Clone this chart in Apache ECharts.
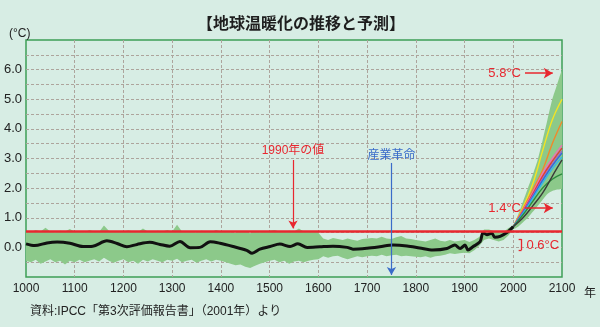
<!DOCTYPE html>
<html>
<head>
<meta charset="utf-8">
<script src="https://cdn.jsdelivr.net/npm/echarts@6/dist/echarts.min.js"></script>
<style>
html,body{margin:0;padding:0;background:#d7ede4;}
#chart{width:600px;height:327px;}
</style>
</head>
<body>
<div id="chart"></div>
<script>
// ---- data ----
var xTicks = [1000,1100,1200,1300,1400,1500,1600,1700,1800,1900,2000,2100];
var yTickLabels = [0,1,2,3,4,5,6];

var histYears = [1000,1018,1043,1064,1090,1117,1137,1166,1187,1207,1228,1254,1275,1295,1316,1337,1357,1378,1398,1425,1453,1464,1480,1501,1521,1542,1558,1577,1603,1630,1659,1671,1700,1726,1753,1782,1808,1835,1864,1880,1891,1901,1907,1917,1932,1938,1946,1956,1962,1973,1987,1997,2000];
var histTemps = [0.12,0.06,0.15,0.18,0.14,0.03,0.04,0.22,0.13,0.02,0.10,0.17,0.10,0.04,0.20,-0.01,0.00,0.19,0.14,0.03,-0.10,-0.20,-0.06,0.03,0.11,0.03,0.12,0.00,0.02,0.04,0.00,-0.06,-0.03,0.02,0.08,0.05,-0.02,-0.09,-0.04,0.08,-0.04,0.08,-0.09,0.02,0.19,0.50,0.43,0.48,0.34,0.37,0.50,0.65,0.70];

var bandYears = [1000,1010,1020,1030,1040,1050,1060,1070,1080,1090,1100,1110,1120,1130,1140,1150,1160,1170,1180,1190,1200,1210,1220,1230,1240,1250,1260,1270,1280,1290,1300,1310,1320,1330,1340,1350,1360,1370,1380,1390,1400,1410,1420,1430,1440,1450,1460,1470,1480,1490,1500,1510,1520,1530,1540,1550,1560,1570,1580,1590,1600,1610,1620,1630,1640,1650,1660,1670,1680,1690,1700,1710,1720,1730,1740,1750,1760,1770,1780,1790,1800,1810,1820,1830,1840,1850,1860,1870,1880,1890,1900,1910,1920,1930,1940,1950,1960,1970,1980,1990,2000];
var bandUpper = [0.54,0.52,0.59,0.54,0.66,0.54,0.51,0.56,0.54,0.62,0.53,0.54,0.51,0.59,0.54,0.52,0.74,0.56,0.54,0.51,0.54,0.58,0.54,0.52,0.64,0.54,0.51,0.56,0.54,0.59,0.54,0.76,0.54,0.52,0.54,0.50,0.56,0.54,0.52,0.59,0.54,0.54,0.51,0.49,0.54,0.52,0.48,0.54,0.51,0.54,0.56,0.59,0.54,0.52,0.56,0.54,0.64,0.54,0.52,0.54,0.49,0.30,0.25,0.32,0.28,0.25,0.30,0.26,0.22,0.28,0.30,0.32,0.30,0.36,0.30,0.28,0.34,0.38,0.30,0.28,0.25,0.22,0.20,0.25,0.30,0.22,0.20,0.25,0.20,0.22,0.25,0.18,0.25,0.35,0.60,0.60,0.55,0.50,0.52,0.65,0.72];
var bandLower = [-0.45,-0.50,-0.42,-0.55,-0.48,-0.40,-0.50,-0.45,-0.58,-0.45,-0.50,-0.42,-0.50,-0.45,-0.40,-0.48,-0.35,-0.45,-0.52,-0.45,-0.40,-0.50,-0.45,-0.55,-0.42,-0.48,-0.40,-0.45,-0.50,-0.42,-0.45,-0.38,-0.50,-0.45,-0.42,-0.52,-0.45,-0.40,-0.48,-0.42,-0.45,-0.50,-0.55,-0.60,-0.58,-0.65,-0.70,-0.62,-0.55,-0.50,-0.45,-0.42,-0.50,-0.45,-0.55,-0.48,-0.45,-0.50,-0.45,-0.42,-0.40,-0.30,-0.35,-0.30,-0.28,-0.35,-0.40,-0.35,-0.30,-0.33,-0.30,-0.28,-0.30,-0.25,-0.30,-0.27,-0.25,-0.30,-0.28,-0.30,-0.32,-0.33,-0.30,-0.35,-0.30,-0.28,-0.25,-0.20,-0.22,-0.20,-0.18,-0.20,-0.10,0.05,0.25,0.30,0.25,0.20,0.25,0.40,0.60];

var fanYears = [2000,2010,2020,2030,2040,2050,2060,2070,2080,2090,2100];
var fanUpper = [0.72,1.10,1.55,2.00,2.45,2.95,3.60,4.30,5.00,5.50,5.95];
var fanLower = [0.62,0.70,0.85,1.00,1.20,1.40,1.60,1.80,1.90,1.95,2.00];

var projYears = [2000,2020,2040,2060,2080,2100];
var projYellow = [0.70,1.35,2.15,3.25,4.30,5.00];
var projOrange = [0.70,1.30,1.95,2.60,3.50,4.25];
var projPink   = [0.70,1.25,1.85,2.50,3.00,3.45];
var projRed    = [0.70,1.22,1.80,2.40,2.90,3.35];
var projPurple = [0.70,1.20,1.75,2.30,2.80,3.25];
var projBlue   = [0.70,1.18,1.70,2.25,2.75,3.18];
var projCyan   = [0.70,1.15,1.65,2.17,2.65,3.05];
var projGreen  = [0.70,1.10,1.55,2.00,2.30,2.48];
var projDark   = [0.70,1.00,1.40,1.83,2.40,2.95];

var value1990 = 0.56;

// ---- chart ----
var LATIN = "'Liberation Sans', 'Noto Sans CJK JP', sans-serif";
var CJK = "'Noto Sans CJK JP', 'Liberation Sans', sans-serif";
var RED = '#e8272f', BLUE = '#3a6cc9', BANDC = '#8cc98a';

function pairs(xs, ys){ var r=[]; for (var i=0;i<xs.length;i++) r.push([xs[i], ys[i]]); return r; }

function polySeries(xs, up, lo, smooth){
  return {
    type:'custom', silent:true, z:1, clip:true,
    data:[[xs[0], up[0]]],
    renderItem:function(params, api){
      var pts=[];
      for (var i=0;i<xs.length;i++) pts.push(api.coord([xs[i], up[i]]));
      for (var j=xs.length-1;j>=0;j--) pts.push(api.coord([xs[j], lo[j]]));
      return {type:'polygon', shape:{points:pts, smooth:smooth||0}, style:{fill:BANDC}};
    }
  };
}

function proj(vals, color){
  return {type:'line', data:pairs(projYears, vals), smooth:0.4, showSymbol:false, silent:true, z:3,
          lineStyle:{color:color, width:1.4}};
}

var chart = echarts.init(document.getElementById('chart'), null, {renderer:'canvas'});
chart.setOption({
  backgroundColor:'#d7ede4',
  animation:false,
  title:[
    {text:'【地球温暖化の推移と予測】', left:192, top:10, textStyle:{fontSize:16, fontWeight:'bold', fontFamily:CJK, color:'#1e1e1e'}},
    {text:'(°C)', left:4, top:23, textStyle:{fontSize:12, fontWeight:'normal', fontFamily:LATIN, color:'#222'}},
    {text:'年', left:579, top:281, textStyle:{fontSize:12, fontWeight:'normal', fontFamily:CJK, color:'#222'}},
    {text:'資料:IPCC「第3次評価報告書」（2001年）より', left:25, top:301, textStyle:{fontSize:12, fontWeight:'normal', fontFamily:LATIN, color:'#222'}}
  ],
  grid:{left:26, right:38, top:40, bottom:50, show:true, borderColor:'#3e9f55', borderWidth:1.5, backgroundColor:'transparent'},
  xAxis:{
    type:'value', min:1000, max:2100, interval:100,
    axisLine:{show:false}, axisTick:{show:false},
    axisLabel:{margin:6, fontSize:12, fontFamily:LATIN, color:'#222',
      formatter:function(v){ return xTicks.indexOf(v)>=0 ? String(v) : ''; }},
    splitLine:{show:true, showMinLine:false, showMaxLine:false, lineStyle:{color:'#ada49c', type:[3,2], width:1}}
  },
  yAxis:{
    type:'value', min:-1, max:7, interval:0.5,
    axisLine:{show:false}, axisTick:{show:false},
    axisLabel:{margin:4, fontSize:13, fontFamily:LATIN, color:'#222',
      formatter:function(v){ return (Math.abs(v-Math.round(v))<1e-6 && yTickLabels.indexOf(Math.round(v))>=0) ? v.toFixed(1) : ''; }},
    splitLine:{show:true, showMinLine:false, showMaxLine:false, lineStyle:{color:'#ada49c', type:[3,2], width:1}}
  },
  series:[
    polySeries(bandYears, bandUpper, bandLower, 0),
    polySeries(fanYears, fanUpper, fanLower, 0.2),
    proj(projYellow, '#f4e422'),
    proj(projOrange, '#f0892a'),
    proj(projPink, '#ee6fb4'),
    proj(projRed, '#e8323a'),
    proj(projPurple, '#9563cc'),
    proj(projBlue, '#2f6ed8'),
    proj(projCyan, '#36b7e6'),
    proj(projGreen, '#2b8a3c'),
    proj(projDark, '#3a3a3a'),
    {type:'line', data:pairs(histYears, histTemps), smooth:0.3, showSymbol:false, silent:true, z:4,
     lineStyle:{color:'#111', width:3}},
    {type:'line', data:[], silent:true, z:5,
     markLine:{
       silent:true, animation:false, symbol:['none','none'],
       lineStyle:{color:RED, width:2.5, type:'solid'},
       label:{show:false},
       data:[{yAxis:value1990}]
     }
    },
    {type:'line', data:[], silent:true, z:6,
     markLine:{
       silent:true, animation:false, precision:2,
       data:[
         [{coord:[1548, 2.95], symbol:'none', lineStyle:{color:RED, width:1.2, type:'solid'},
           label:{show:true, position:'start', formatter:'1990年の値', color:RED, fontSize:12, fontFamily:LATIN, distance:3}},
          {coord:[1548, 0.64], symbol:'arrow', symbolSize:[7,8]}],
         [{coord:[1750, 2.85], symbol:'none', lineStyle:{color:BLUE, width:1.2, type:'solid'},
           label:{show:true, position:'start', formatter:'産業革命', color:BLUE, fontSize:12, fontFamily:CJK, distance:3}},
          {coord:[1750, -0.93], symbol:'arrow', symbolSize:[7,8]}],
         [{coord:[2024, 5.88], symbol:'none', lineStyle:{color:RED, width:1.5, type:'solid'},
           label:{show:true, position:'start', formatter:'5.8°C', color:RED, fontSize:13, fontFamily:LATIN, distance:4}},
          {coord:[2081, 5.88], symbol:'arrow', symbolSize:[8,9]}],
         [{coord:[2024, 1.33], symbol:'none', lineStyle:{color:RED, width:1.5, type:'solid'},
           label:{show:true, position:'start', formatter:'1.4°C', color:RED, fontSize:13, fontFamily:LATIN, distance:4}},
          {coord:[2081, 1.33], symbol:'arrow', symbolSize:[8,9]}],
         [{coord:[2017, 0.28], symbol:'none', lineStyle:{color:RED, width:1.3, type:'solid'}, label:{show:false}},
          {coord:[2017, -0.09], symbol:'none'}],
         [{coord:[2011, 0.28], symbol:'none', lineStyle:{color:RED, width:1.3, type:'solid'}, label:{show:false}},
          {coord:[2017, 0.28], symbol:'none'}],
         [{coord:[2011, -0.09], symbol:'none', lineStyle:{color:RED, width:1.3, type:'solid'}, label:{show:false}},
          {coord:[2017, -0.09], symbol:'none'}]
       ]
     },
     markPoint:{
       silent:true, animation:false,
       data:[{coord:[2027, 0.08], symbol:'circle', symbolSize:0,
              label:{show:true, position:'right', distance:0, formatter:'0.6°C', color:RED, fontSize:13, fontFamily:LATIN}}]
     }
    }
  ]
});
</script>
</body>
</html>
